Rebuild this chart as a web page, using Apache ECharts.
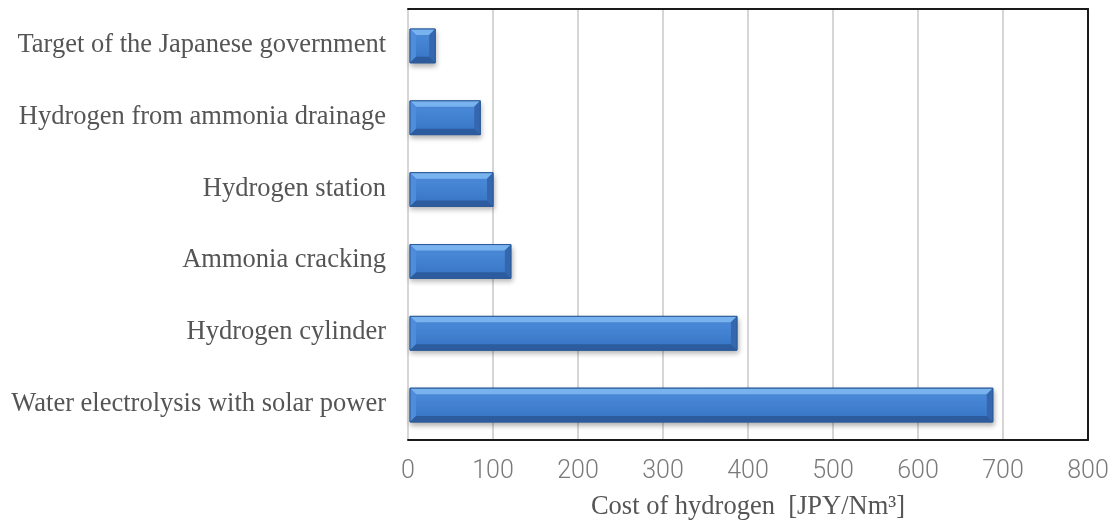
<!DOCTYPE html>
<html>
<head>
<meta charset="utf-8">
<script src="https://cdn.jsdelivr.net/npm/echarts@6/dist/echarts.min.js"></script>
<style>
  html, body { margin: 0; padding: 0; background: #fff; }
  #chart { width: 1113px; height: 526px; }
</style>
</head>
<body>
<div id="chart"></div>
<script>
// Hydrogen cost by source, top to bottom
const categories = [
  'Target of the Japanese government',
  'Hydrogen from ammonia drainage',
  'Hydrogen station',
  'Ammonia cracking',
  'Hydrogen cylinder',
  'Water electrolysis with solar power'
];
const costs = [32, 85, 100, 121, 387, 688];
const axisTitle = 'Cost of hydrogen  [JPY/Nm\u00B3]';

const chart = echarts.init(document.getElementById('chart'), null, { renderer: 'canvas' });

// Bevelled bar: face plus four sloped edges
function renderBevelBar(params, api) {
  const value = api.value(0);
  const idx = api.value(1);
  const start = api.coord([0, idx]);
  const end = api.coord([value, idx]);
  const band = api.size([0, 1])[1];
  const h = band * 0.47;
  const x0 = start[0] + 2, x1 = end[0];
  const y0 = start[1] - h / 2 + 1, y1 = start[1] + h / 2 + 1;
  const b = Math.min(6, (x1 - x0) / 3, h / 3);
  const poly = (pts, fill) => ({ type: 'polygon', shape: { points: pts }, style: { fill: fill }, silent: true });
  return {
    type: 'group',
    children: [
      {
        type: 'rect',
        shape: { x: x0, y: y0, width: x1 - x0, height: h },
        style: {
          fill: new echarts.graphic.LinearGradient(0, 0, 0, 1, [
            { offset: 0, color: '#4f8fdc' },
            { offset: 1, color: '#3572c4' }
          ]),
          stroke: '#2c5a98', lineWidth: 1,
          shadowColor: 'rgba(0,0,0,0.3)', shadowBlur: 5, shadowOffsetY: 3, shadowOffsetX: 1
        }
      },
      poly([[x0, y0], [x1, y0], [x1 - b, y0 + b], [x0 + b, y0 + b]], '#78b2ef'),
      poly([[x0, y0], [x0 + b, y0 + b], [x0 + b, y1 - b], [x0, y1]], '#4e8ddc'),
      poly([[x1, y0], [x1, y1], [x1 - b, y1 - b], [x1 - b, y0 + b]], '#3467ae'),
      poly([[x0, y1], [x0 + b, y1 - b], [x1 - b, y1 - b], [x1, y1]], '#2d5c9e'),
      { type: 'rect', shape: { x: x0, y: y0, width: x1 - x0, height: h }, style: { fill: 'none', stroke: '#2c5a98', lineWidth: 1 }, silent: true }
    ]
  };
}

const option = {
  backgroundColor: '#ffffff',
  animation: false,
  grid: { left: 408, right: 25, top: 9, bottom: 83, containLabel: false },
  xAxis: [
    {
      type: 'value', min: 0, max: 800, interval: 100, position: 'bottom',
      axisLine: { show: true, onZero: false, lineStyle: { color: '#1a1a1a', width: 2 } },
      axisTick: { show: false },
      splitLine: { show: true, lineStyle: { color: '#d6d6d6', width: 2 } },
      axisLabel: { margin: 19, fontFamily: 'Roboto', fontWeight: 300, fontSize: 25, color: '#7a7a7a' },
      name: axisTitle, nameLocation: 'middle', nameGap: 54,
      nameTextStyle: { fontFamily: 'Liberation Serif', fontSize: 26.5, color: '#555555' }
    },
    {
      // top edge of the frame
      type: 'value', min: 0, max: 800, interval: 100, position: 'top',
      axisLine: { show: true, onZero: false, lineStyle: { color: '#1a1a1a', width: 2 } },
      axisTick: { show: false }, axisLabel: { show: false }, splitLine: { show: false }
    }
  ],
  yAxis: [
    {
      type: 'category', data: categories, inverse: true,
      axisLine: { show: false, onZero: false },
      axisTick: { show: false },
      axisLabel: { margin: 22, fontFamily: 'Liberation Serif', fontSize: 26.5, color: '#555555' }
    },
    {
      // right edge of the frame
      type: 'category', data: categories, inverse: true, position: 'right',
      axisLine: { show: true, onZero: false, lineStyle: { color: '#1a1a1a', width: 2 } },
      axisTick: { show: false }, axisLabel: { show: false }
    }
  ],
  series: [
    { type: 'custom', xAxisIndex: 0, yAxisIndex: 0, renderItem: renderBevelBar, encode: { x: 0, y: 1 }, data: costs.map((v, i) => [v, i]) }
  ]
};

chart.setOption(option);
</script>
</body>
</html>
